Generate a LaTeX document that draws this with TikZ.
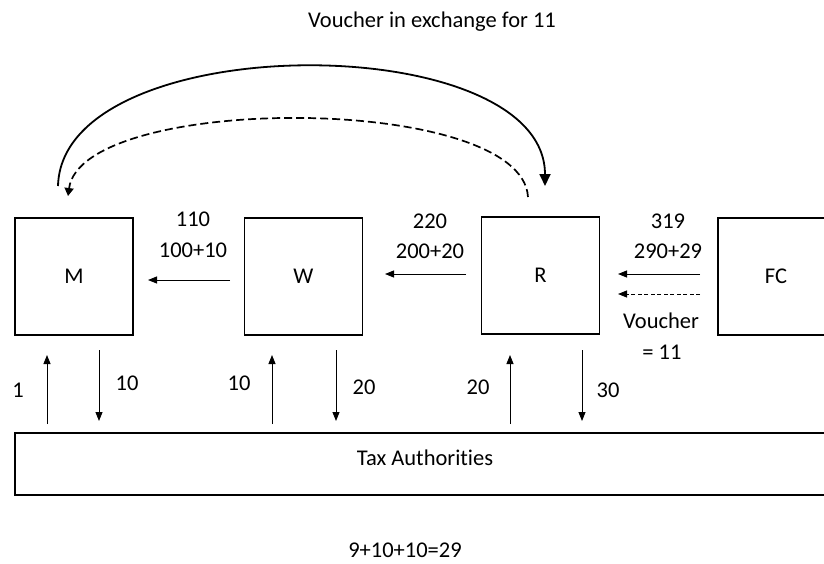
\documentclass[tikz,border=0pt]{standalone}
\usepackage{fontspec}
\setmainfont{Carlito}[Ligatures=NoCommon]
\usetikzlibrary{arrows.meta}
\begin{document}
\begin{tikzpicture}[x=1pt,y=-1pt,
  every node/.style={font=\fontsize{22.5}{26}\selectfont, inner sep=0pt},
  party/.style={draw, line width=1.6pt, minimum width=118pt, minimum height=117pt},
  flow/.style={line width=0.9pt, -{Triangle[length=9pt,width=7pt]}},
  voucherflow/.style={flow, dashed, dash pattern=on 4pt off 2.5pt},
  bigarc/.style={line width=1.8pt, -{Triangle[length=12pt,width=11pt]}},
  lbl/.style={anchor=center}]
\useasboundingbox (0,0) rectangle (824,563);
% parties in the chain
\node[party] (M)  at (74,276.5)  {M};
\node[party] (W)  at (303.5,276.5) {W};
\node[party] (R)  at (540.5,275.5) {R};
\node[party, anchor=north west] (FC) at (717,217) {};
\node at (776,276) {FC};
\draw[line width=1.6pt] (15,433) rectangle (830,495);
\node (TA) at (425,458) {Tax Authorities};
% payments along the chain
\coordinate (wl) at (230,280); \coordinate (ml) at (148,280);
\draw[flow] (wl) -- (ml);
\node[lbl] at (193,219) {110};
\node[lbl] at (193,250) {100+10};
\coordinate (rl) at (466,274); \coordinate (wr) at (385,274);
\draw[flow] (rl) -- (wr);
\node[lbl] at (430,221) {220};
\node[lbl] at (430,251) {200+20};
\coordinate (fcs) at (700,274); \coordinate (rs) at (618,274);
\draw[flow] (fcs) -- (rs);
\coordinate (fcd) at (700,294); \coordinate (rd) at (618,294);
\draw[voucherflow] (fcd) -- (rd);
\node[lbl] at (668,221) {319};
\node[lbl] at (668,251) {290+29};
\node[lbl] at (661,321) {Voucher};
\node[lbl] at (662,352) {= 11};
% voucher loop between M and R
\coordinate (ms) at (58,186); \coordinate (re) at (545,186);
\draw[bigarc] (ms) .. controls (62,27) and (545,27) .. (re);
\coordinate (rs2) at (528,197); \coordinate (me) at (68,196);
\draw[line width=1.7pt, dashed, dash pattern=on 8pt off 4pt, -{Triangle[length=8pt,width=9pt]}]
  (rs2) .. controls (522,93) and (82,93) .. (me);
\node[lbl] at (432,22) {Voucher in exchange for 11};
% tax payments and refunds
\foreach \xu/\xd in {47/99, 272/336, 510/582} {
  \coordinate (u1) at (\xu,424); \coordinate (u2) at (\xu,355);
  \draw[flow] (u1) -- (u2);
  \coordinate (d1) at (\xd,350); \coordinate (d2) at (\xd,421);
  \draw[flow] (d1) -- (d2);
}
\node[lbl] at (18,390) {1};
\node[lbl] at (127,383) {10};
\node[lbl] at (239,383) {10};
\node[lbl] at (364,387) {20};
\node[lbl] at (478,387) {20};
\node[lbl] at (608,390) {30};
\node[lbl] at (405,550) {9+10+10=29};
\end{tikzpicture}
\end{document}
